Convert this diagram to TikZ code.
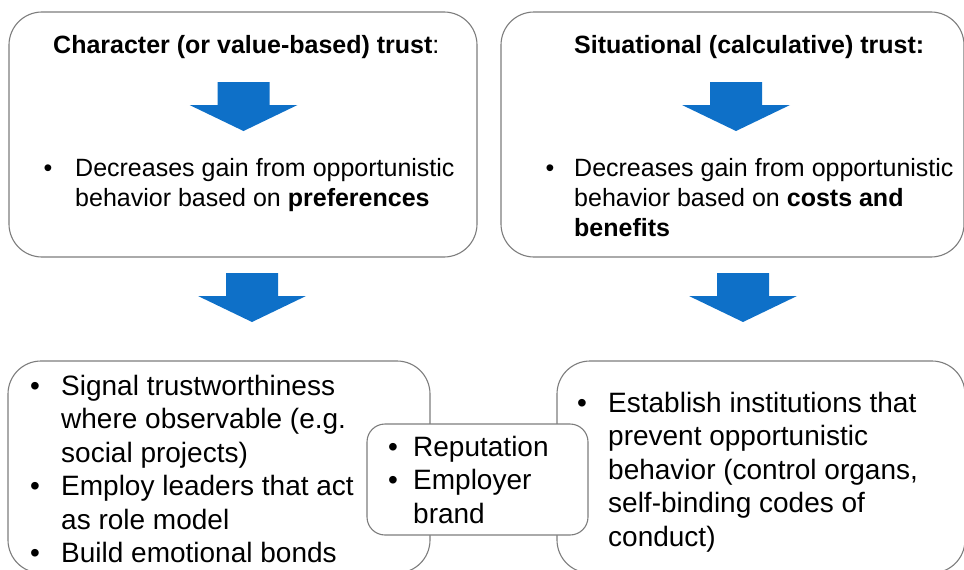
\documentclass[tikz,border=0pt]{standalone}
\usepackage{fontspec}
\setmainfont{Liberation Sans}
\definecolor{arrowblue}{RGB}{14,112,200}
\definecolor{boxgray}{RGB}{125,125,125}
\newcommand{\mylines}[1]{\begin{tabular}[t]{@{}l@{}}#1\end{tabular}}
\begin{document}
\begin{tikzpicture}[x=1pt,y=-1pt,
  box/.style={draw=boxgray, line width=1.1pt, fill=white, rectangle, rounded corners=33pt, inner sep=0pt},
  smallbox/.style={box, rounded corners=18pt},
  fA/.style={font=\fontsize{25}{30}\selectfont},
  fB/.style={font=\fontsize{28}{33.5}\selectfont},
  txtA/.style={fA, inner sep=0pt, anchor=base west},
  txtB/.style={fB, inner sep=0pt, anchor=base west},
  bulA/.style={fA, inner sep=0pt, anchor=base},
  bulB/.style={fB, inner sep=0pt, anchor=base},
  downarrow/.pic={\fill[arrowblue] (-26,0) -- (26,0) -- (26,23) -- (54,23) -- (0,49) -- (-54,23) -- (-26,23) -- cycle;}
]
\useasboundingbox (0,0) rectangle (964,570);
\clip (0,0) rectangle (964,570);

% top boxes
\node[box, minimum width=468pt, minimum height=245pt] (tl) at (243,134.5) {};
\node[box, minimum width=463pt, minimum height=245pt] (tr) at (732.5,134.5) {};

% bottom boxes
\node[box, minimum width=422pt, minimum height=212pt] (bl) at (219,467) {};
\node[box, minimum width=408pt, minimum height=212pt] (br) at (761,467) {};
\node[smallbox, minimum width=221pt, minimum height=111pt] (mid) at (477.5,479.5) {};

% titles
\node[txtA] (tltitle) at (53,53) {\textbf{Character (or value-based) trust}:};
\node[txtA] (trtitle) at (574,53) {\textbf{Situational (calculative) trust:}};

% arrows
\pic at (243.5,82) {downarrow};
\pic at (736,82) {downarrow};
\pic at (252,273) {downarrow};
\pic at (743,273) {downarrow};

% top-left list
\node[bulA] (tlb) at (48,176) {•};
\node[txtA] (tltext) at (75,176) {\mylines{Decreases gain from opportunistic\\behavior based on \textbf{preferences}}};

% top-right list
\node[bulA] (trb) at (550,176) {•};
\node[txtA] (trtext) at (574,176) {\mylines{Decreases gain from opportunistic\\behavior based on \textbf{costs and}\\\textbf{benefits}}};

% bottom-left list
\node[bulB] (blb1) at (35,395) {•};
\node[bulB] (blb2) at (35,495.5) {•};
\node[bulB] (blb3) at (35,562.5) {•};
\node[txtB] (bltext) at (61,395) {\mylines{Signal trustworthiness\\where observable (e.g.\\social projects)\\Employ leaders that act\\as role model\\Build emotional bonds}};

% middle list
\node[bulB] (mb1) at (393,456) {•};
\node[bulB] (mb2) at (393,489.5) {•};
\node[txtB] (mtext) at (413,456) {\mylines{Reputation\\Employer\\brand}};

% bottom-right list
\node[bulB] (brb) at (582,412) {•};
\node[txtB] (brtext) at (608,412) {\mylines{Establish institutions that\\prevent opportunistic\\behavior (control organs,\\self-binding codes of\\conduct)}};
\end{tikzpicture}
\end{document}
